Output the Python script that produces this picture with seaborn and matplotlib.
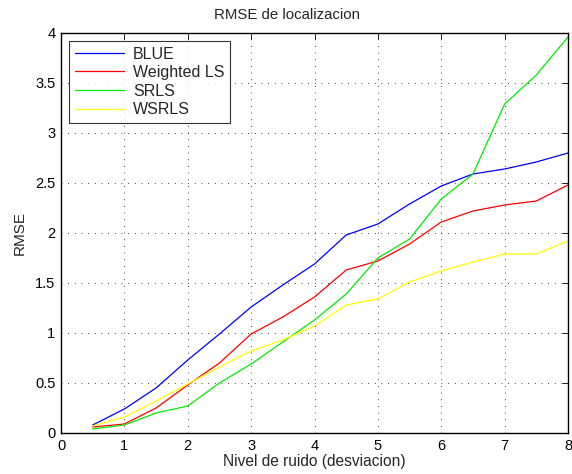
import numpy as np
import pandas as pd
import matplotlib
matplotlib.use("Agg")
import matplotlib.pyplot as plt
import seaborn as sns

noise = [0.5, 1, 1.5, 2, 2.5, 3, 3.5, 4, 4.5, 5, 5.5, 6, 6.5, 7, 7.5, 8]
blue = [0.08, 0.24, 0.45, 0.73, 0.99, 1.26, 1.48, 1.69, 1.98, 2.09, 2.29, 2.47, 2.59, 2.64, 2.71, 2.80]
wls = [0.06, 0.09, 0.25, 0.48, 0.70, 0.99, 1.16, 1.36, 1.63, 1.72, 1.89, 2.11, 2.22, 2.28, 2.32, 2.48]
srls = [0.04, 0.08, 0.20, 0.27, 0.50, 0.69, 0.91, 1.13, 1.39, 1.75, 1.94, 2.34, 2.59, 3.29, 3.58, 3.96]
wsrls = [0.07, 0.16, 0.32, 0.49, 0.66, 0.82, 0.93, 1.07, 1.28, 1.34, 1.51, 1.62, 1.71, 1.79, 1.79, 1.92]
series_names = ["BLUE", "Weighted LS", "SRLS", "WSRLS"]
colors = ["#0000ff", "#ff0000", "#00ee00", "#ffff00"]

df = pd.concat([
    pd.DataFrame({"x": noise, "y": v, "serie": n})
    for n, v in zip(series_names, [blue, wls, srls, wsrls])
])

sns.set_theme(style="white")
plt.rcParams['font.family'] = ['Liberation Sans', 'DejaVu Sans']

fig = plt.figure(figsize=(5.72, 4.74), dpi=100)
ax = fig.add_axes([61/572, 1-433/474, (568-61)/572, (433-33)/474])

sns.lineplot(data=df, x="x", y="y", hue="serie", hue_order=series_names,
             palette=colors, ax=ax, linewidth=0.9, legend=True)

ax.set_xlim(0, 8)
ax.set_ylim(0, 4)
ax.set_xticks(range(0, 9))
ax.set_yticks(np.arange(0, 4.01, 0.5))
ax.set_yticklabels(["0", "0.5", "1", "1.5", "2", "2.5", "3", "3.5", "4"])
ax.tick_params(direction="in", length=4, width=0.6, colors="black",
               labelsize=10.5, top=True, right=True, pad=4)
ax.grid(True, color="black", linestyle=(0, (1, 7)), linewidth=0.6)
for s in ax.spines.values():
    s.set_color("black")
    s.set_linewidth(1.0)

ax.set_title("RMSE de localizacion", fontsize=10.8, pad=10, x=0.445)
ax.set_xlabel("Nivel de ruido (desviacion)", fontsize=11.2, labelpad=1)
ax.set_ylabel("RMSE", fontsize=11, labelpad=6)

leg = ax.legend(loc="upper left", fontsize=11.5, frameon=True, fancybox=False,
                edgecolor="black", borderpad=0.35, handlelength=3.1,
                labelspacing=0.22, borderaxespad=0.5, handletextpad=0.55)
leg.get_frame().set_linewidth(0.8)

fig.savefig("out.png", dpi=100)
